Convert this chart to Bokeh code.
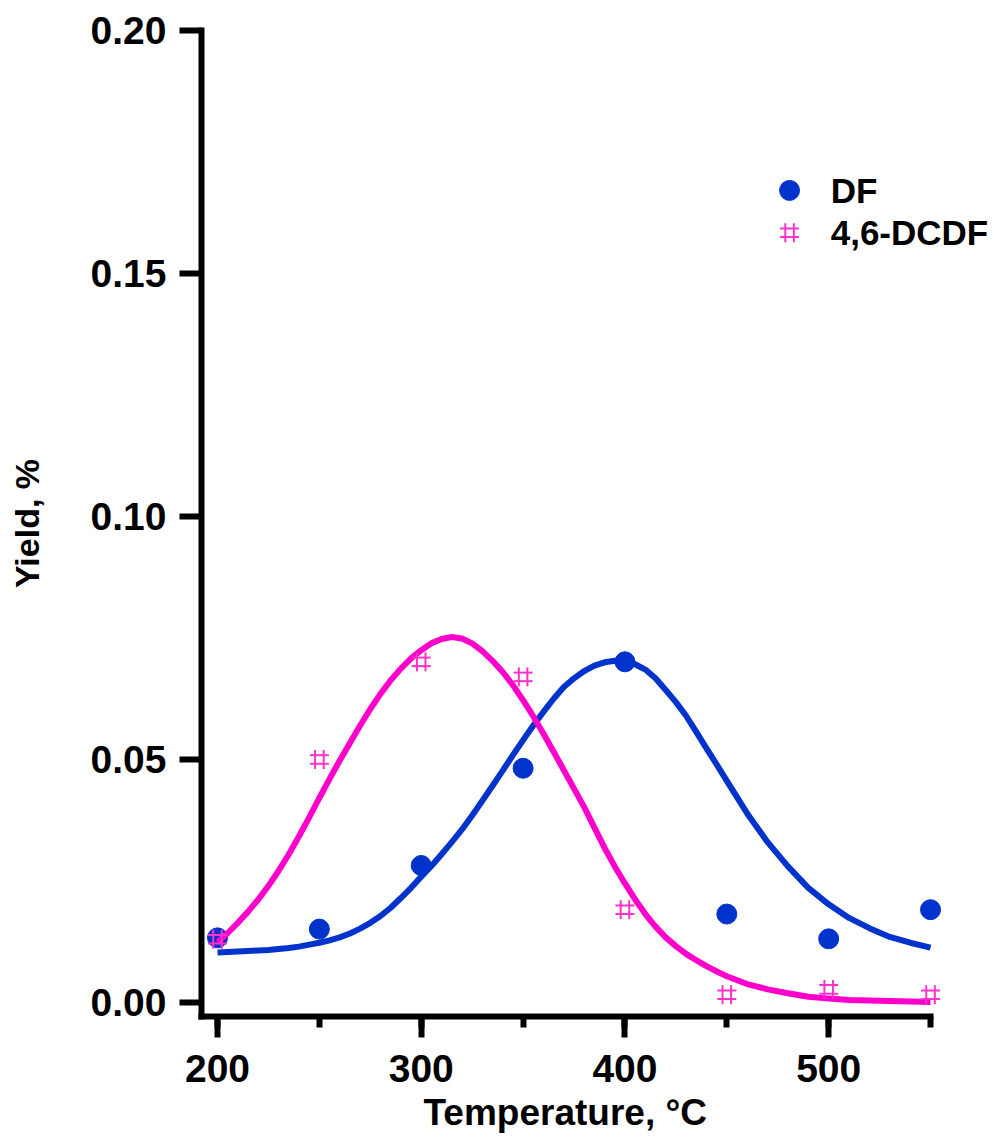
from math import pi
from bokeh.plotting import figure
from bokeh.models import (ColumnDataSource, Range1d, SingleIntervalTicker,
                          PrintfTickFormatter, Label, Title)
from bokeh.transform import dodge
from bokeh.embed import file_html
from bokeh.resources import INLINE

# ---------------- data ----------------
TEMP = [200, 250, 300, 350, 400, 450, 500, 550]
DF = [0.0133, 0.0151, 0.0282, 0.0482, 0.0701, 0.0182, 0.0131, 0.0191]
DCDF = [0.0130, 0.0500, 0.0701, 0.0670, 0.0191, 0.0016, 0.0027, 0.0016]

FIT_T = [200, 205, 210, 215, 220, 225, 230, 235, 240, 245, 250, 255, 260,
         265, 270, 275, 280, 285, 290, 295, 300, 305, 310, 315, 320, 325,
         330, 335, 340, 345, 350, 355, 360, 365, 370, 375, 380, 385, 390,
         395, 400, 405, 410, 415, 420, 425, 430, 435, 440, 445, 450, 460,
         470, 480, 490, 500, 510, 520, 530, 540, 550]
FIT_DF = [0.0103, 0.0104, 0.0105, 0.0106, 0.0107, 0.0108, 0.0110, 0.0112,
          0.0115, 0.0119, 0.0123, 0.0128, 0.0134, 0.0142, 0.0152, 0.0164,
          0.0178, 0.0195, 0.0215, 0.0236, 0.0259, 0.0281, 0.0305, 0.0330,
          0.0356, 0.0385, 0.0415, 0.0446, 0.0477, 0.0509, 0.0540, 0.0570,
          0.0598, 0.0625, 0.0649, 0.0667, 0.0682, 0.0693, 0.0700, 0.0703,
          0.0702, 0.0696, 0.0685, 0.0667, 0.0643, 0.0618, 0.0590, 0.0557,
          0.0523, 0.0490, 0.0456, 0.0389, 0.0330, 0.0280, 0.0236, 0.0202,
          0.0174, 0.0153, 0.0135, 0.0123, 0.0113]
FIT_DCDF = [0.0124, 0.0143, 0.0164, 0.0187, 0.0212, 0.0240, 0.0271, 0.0305,
            0.0342, 0.0381, 0.0421, 0.0460, 0.0498, 0.0534, 0.0570, 0.0604,
            0.0635, 0.0663, 0.0687, 0.0708, 0.0725, 0.0739, 0.0748, 0.0752,
            0.0749, 0.0739, 0.0723, 0.0703, 0.0680, 0.0653, 0.0622, 0.0589,
            0.0553, 0.0516, 0.0478, 0.0440, 0.0402, 0.0360, 0.0318, 0.0280,
            0.0245, 0.0212, 0.0182, 0.0156, 0.0134, 0.0116, 0.0100, 0.0087,
            0.0075, 0.0064, 0.0054, 0.0038, 0.0027, 0.0019, 0.0012, 0.0008,
            0.0005, 0.0004, 0.0003, 0.0002, 0.0001]

SERIES_NAMES = ["DF", "4,6-DCDF"]
X_TITLE = "Temperature, °C"
Y_TITLE = "Yield, %"

# ---------------- style / layout ----------------
BLUE = "#0033CC"
PINK = "#FF00CC"
PINK_MARK = "#FF33CC"
FONT = "Liberation Sans"

X_START, X_END, X_AXIS_END = 192.14, 581.4, 550
Y_START, Y_END = -0.00288, 0.20

LEG_X, LEG_TEXT_X = 480.8, 501.0
LEG_Y = [0.1671, 0.1584]

HX = 2.1        # half spacing of the '#' marker strokes (x, data units)
HY = 0.00088    # half spacing of the '#' marker strokes (y, data units)

p = figure(width=994, height=1138, output_backend="svg", toolbar_location=None,
           x_range=Range1d(X_START, X_END), y_range=Range1d(Y_START, Y_END),
           min_border_left=201, min_border_right=0, min_border_top=30,
           min_border_bottom=122)
p.outline_line_color = None
p.grid.visible = False
p.background_fill_color = "white"
p.border_fill_color = "white"

# axes
for ax in (p.xaxis[0], p.yaxis[0]):
    ax.axis_line_width = 6
    ax.axis_line_cap = "square"
    ax.major_tick_line_width = 6
    ax.minor_tick_line_width = 6
    ax.major_tick_in = 0
    ax.minor_tick_in = 0
    ax.major_label_text_font = FONT
    ax.major_label_text_font_style = "bold"
    ax.major_label_text_font_size = "39px"
    ax.major_label_text_color = "black"

xa = p.xaxis[0]
xa.ticker = SingleIntervalTicker(interval=100, num_minor_ticks=2)
xa.bounds = (X_START, X_AXIS_END)
xa.major_tick_out = 21
xa.minor_tick_out = 11
xa.major_label_standoff = 17

ya = p.yaxis[0]
ya.ticker = SingleIntervalTicker(interval=0.05, num_minor_ticks=0)
ya.formatter = PrintfTickFormatter(format="%.2f")
ya.bounds = (Y_START, Y_END)
ya.major_tick_out = 22
ya.minor_tick_line_color = None
ya.major_label_standoff = 13
ya.axis_label = Y_TITLE
ya.axis_label_text_font = FONT
ya.axis_label_text_font_style = "bold"
ya.axis_label_text_font_size = "34px"
ya.axis_label_text_color = "black"
ya.axis_label_standoff = 42

# x-axis title, left-aligned so that it sits centred under the axis line
p.add_layout(Title(text=X_TITLE, align="left", offset=222, text_font=FONT,
                   text_font_style="bold", text_font_size="37px",
                   text_color="black", standoff=10), "below")

# data
pts = ColumnDataSource(dict(T=TEMP, DF=DF, DCDF=DCDF))
fit = ColumnDataSource(dict(T=FIT_T, DF=FIT_DF, DCDF=FIT_DCDF))

p.line("T", "DF", source=fit, line_width=6, line_color=BLUE, line_join="round")
p.scatter("T", "DF", source=pts, marker="circle", size=20,
          fill_color=BLUE, line_color=BLUE)
p.line("T", "DCDF", source=fit, line_width=6, line_color=PINK, line_join="round")


def hash_marks(source, xcol, ycol):
    for dx in (-HX, HX):
        p.scatter(x=dodge(xcol, dx), y=ycol, source=source, marker="dash",
                  angle=pi / 2, size=19, line_color=PINK_MARK, line_width=2)
    for dy in (-HY, HY):
        p.scatter(x=xcol, y=dodge(ycol, dy), source=source, marker="dash",
                  size=19, line_color=PINK_MARK, line_width=2)


hash_marks(pts, "T", "DCDF")

# legend
leg_df = ColumnDataSource(dict(x=[LEG_X], y=[LEG_Y[0]]))
leg_dc = ColumnDataSource(dict(x=[LEG_X], y=[LEG_Y[1]]))
p.scatter("x", "y", source=leg_df, marker="circle", size=20,
          fill_color=BLUE, line_color=BLUE)
hash_marks(leg_dc, "x", "y")
for name, yv in zip(SERIES_NAMES, LEG_Y):
    p.add_layout(Label(x=LEG_TEXT_X, y=yv, text=name, text_font=FONT,
                       text_font_style="bold", text_font_size="35px",
                       text_baseline="middle", text_align="left",
                       text_color="black"))

open("out.html", "w").write(file_html(p, INLINE))
